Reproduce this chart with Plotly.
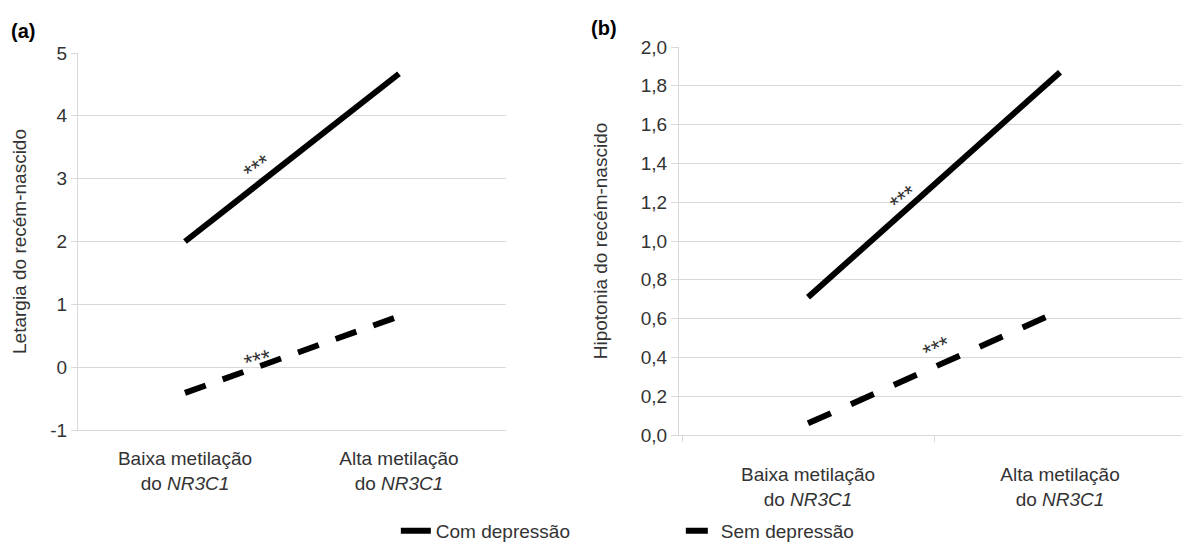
import plotly.graph_objects as go

# ---- data ----
categories = ["Baixa metilação<br>do <i>NR3C1</i>", "Alta metilação<br>do <i>NR3C1</i>"]
series_names = ["Com depressão", "Sem depressão"]

letargia_com = [2.0, 4.67]
letargia_sem = [-0.41, 0.81]
hipotonia_com = [0.71, 1.87]
hipotonia_sem = [0.06, 0.64]

# significance markers: (x position in category units, y value, angle)
sig_a = [(0.34, 3.18, -35), (0.34, 0.12, -15)]
sig_b = [(0.38, 1.22, -38), (0.51, 0.45, -25)]

yticks_a = [-1, 0, 1, 2, 3, 4, 5]
yticklabels_a = ["-1", "0", "1", "2", "3", "4", "5"]
yticks_b = [0.0, 0.2, 0.4, 0.6, 0.8, 1.0, 1.2, 1.4, 1.6, 1.8, 2.0]
yticklabels_b = ["0,0", "0,2", "0,4", "0,6", "0,8", "1,0", "1,2", "1,4", "1,6", "1,8", "2,0"]

FONT = "Liberation Sans, Arial, sans-serif"
TXT = "#333333"
GRID = "#d9d9d9"
W, H = 1182, 543
FS = 19

fig = go.Figure()

fig.add_trace(go.Scatter(x=categories, y=letargia_com, mode="lines", name=series_names[0],
                         line=dict(color="black", width=6), xaxis="x", yaxis="y",
                         legendgroup="com"))
fig.add_trace(go.Scatter(x=categories, y=letargia_sem, mode="lines", name=series_names[1],
                         line=dict(color="black", width=6, dash="22px,18px"), xaxis="x", yaxis="y",
                         legendgroup="sem"))
fig.add_trace(go.Scatter(x=categories, y=hipotonia_com, mode="lines", name=series_names[0],
                         line=dict(color="black", width=6), xaxis="x2", yaxis="y2",
                         legendgroup="com", showlegend=False))
fig.add_trace(go.Scatter(x=categories, y=hipotonia_sem, mode="lines", name=series_names[1],
                         line=dict(color="black", width=6, dash="25px,22px"), xaxis="x2", yaxis="y2",
                         legendgroup="sem", showlegend=False))

annotations = []
for (x, y, a) in sig_a:
    annotations.append(dict(x=x, y=y, xref="x", yref="y", text="***", showarrow=False,
                            textangle=a, font=dict(size=23, color=TXT, family=FONT)))
for (x, y, a) in sig_b:
    annotations.append(dict(x=x, y=y, xref="x2", yref="y2", text="***", showarrow=False,
                            textangle=a, font=dict(size=23, color=TXT, family=FONT)))
annotations.append(dict(x=9 / W, y=(H - 31) / H, xref="paper", yref="paper", text="<b>(a)</b>",
                        showarrow=False, xanchor="left", yanchor="middle",
                        font=dict(size=20, color="black", family=FONT)))
annotations.append(dict(x=589 / W, y=(H - 28) / H, xref="paper", yref="paper", text="<b>(b)</b>",
                        showarrow=False, xanchor="left", yanchor="middle",
                        font=dict(size=20, color="black", family=FONT)))

tickfont = dict(size=FS, color=TXT, family=FONT)

fig.update_layout(
    width=W, height=H,
    margin=dict(l=0, r=0, t=0, b=0, autoexpand=False),
    paper_bgcolor="white", plot_bgcolor="white",
    showlegend=True,
    legend=dict(orientation="h", x=0.576, xanchor="center", y=-7 / H, yanchor="bottom",
                bgcolor="rgba(0,0,0,0)",
                font=dict(size=FS, color=TXT, family=FONT), entrywidth=240),
    annotations=annotations,
    xaxis=dict(domain=[78 / W, 506 / W], type="category", range=[-0.5, 1.5],
               showgrid=False, showline=True, linecolor=GRID, linewidth=1, zeroline=False, ticks="",
               tickfont=tickfont, ticklabelstandoff=11, anchor="y"),
    yaxis=dict(domain=[(H - 430) / H, (H - 53) / H], range=[-1, 5],
               tickvals=yticks_a, ticktext=yticklabels_a,
               showgrid=True, gridcolor=GRID, gridwidth=1, zeroline=False,
               showline=True, linecolor=GRID, linewidth=1, ticks="outside", ticklen=6,
               tickcolor=GRID, tickfont=tickfont, anchor="x",
               title=dict(text="Letargia do recém-nascido", font=dict(size=FS, color=TXT, family=FONT),
                          standoff=18)),
    xaxis2=dict(domain=[679 / W, 1.0], type="category", range=[-0.512, 1.484],
                showgrid=False, showline=True, linecolor=GRID, linewidth=1, zeroline=False,
                ticks="outside", ticklen=6, tickcolor=GRID, tickson="boundaries",
                tickfont=tickfont, ticklabelstandoff=22, anchor="y2"),
    yaxis2=dict(domain=[(H - 435) / H, (H - 47) / H], range=[0, 2.0],
                tickvals=yticks_b, ticktext=yticklabels_b,
                showgrid=True, gridcolor=GRID, gridwidth=1, zeroline=False,
                showline=True, linecolor=GRID, linewidth=1, ticks="outside", ticklen=7,
                tickcolor=GRID, tickfont=tickfont, anchor="x2",
                title=dict(text="Hipotonia do recém-nascido", font=dict(size=FS, color=TXT, family=FONT),
                           standoff=28)),
)

fig.write_html("out.html")
